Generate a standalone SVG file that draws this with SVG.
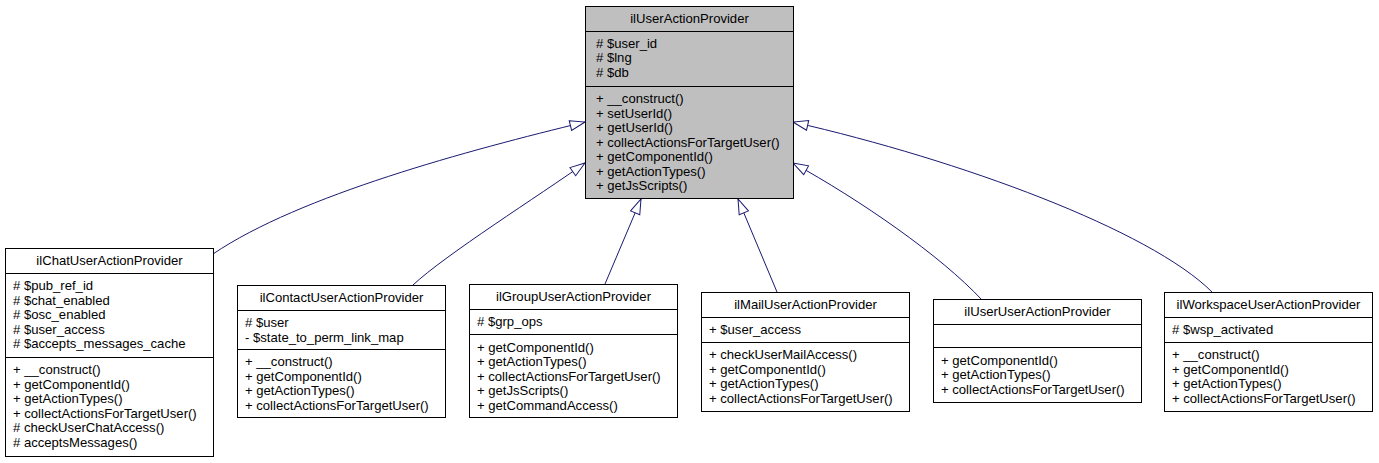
<svg xmlns="http://www.w3.org/2000/svg" width="1379" height="463" viewBox="0 0 1379 463">
<style>
.box{fill:#ffffff;stroke:#000000;stroke-width:1}
.base{fill:#bfbfbf}
.div{stroke:#000000;stroke-width:1}
text{font-family:"Liberation Sans",Arial,Helvetica,sans-serif;font-size:13.1px;fill:#000000}
.t{text-anchor:middle}
.edge{fill:none;stroke:#191970;stroke-width:1}
</style>
<defs>
<marker id="tri" markerUnits="userSpaceOnUse" markerWidth="17" markerHeight="13" refX="16" refY="6" orient="auto">
<path d="M1,1 L16,6 L1,11 Z" fill="#ffffff" stroke="#191970" stroke-width="1"/>
</marker>
</defs>
<g id="connectors">
<path class="edge" marker-end="url(#tri)" d="M213,254 C300,195 470,150 585,122"/>
<path class="edge" marker-end="url(#tri)" d="M413,285 C445,255 540,195 585,163"/>
<path class="edge" marker-end="url(#tri)" d="M605,284 L641,199"/>
<path class="edge" marker-end="url(#tri)" d="M777,292 L738,199"/>
<path class="edge" marker-end="url(#tri)" d="M982,300 C940,255 860,200 793,163"/>
<path class="edge" marker-end="url(#tri)" d="M1212,292 C1150,230 960,160 793,122"/>
</g>
<g id="ilUserActionProvider">
<rect class="box base" x="585.5" y="6.5" width="208" height="192"/>
<line class="div" x1="585.5" y1="31.5" x2="793.5" y2="31.5"/>
<line class="div" x1="585.5" y1="86.5" x2="793.5" y2="86.5"/>
<text class="t" x="689.5" y="22.5">ilUserActionProvider</text>
<text x="596" y="47.5"># $user_id</text>
<text x="596" y="62"># $lng</text>
<text x="596" y="76.5"># $db</text>
<text x="596" y="103">+ __construct()</text>
<text x="596" y="117.5">+ setUserId()</text>
<text x="596" y="132">+ getUserId()</text>
<text x="596" y="146.5">+ collectActionsForTargetUser()</text>
<text x="596" y="161">+ getComponentId()</text>
<text x="596" y="175.5">+ getActionTypes()</text>
<text x="596" y="190">+ getJsScripts()</text>
</g>
<g id="ilChatUserActionProvider">
<rect class="box" x="5.5" y="248.5" width="208" height="208"/>
<line class="div" x1="5.5" y1="273.5" x2="213.5" y2="273.5"/>
<line class="div" x1="5.5" y1="357.5" x2="213.5" y2="357.5"/>
<text class="t" x="109.5" y="265">ilChatUserActionProvider</text>
<text x="13" y="290"># $pub_ref_id</text>
<text x="13" y="304.5"># $chat_enabled</text>
<text x="13" y="319"># $osc_enabled</text>
<text x="13" y="333.5"># $user_access</text>
<text x="13" y="348"># $accepts_messages_cache</text>
<text x="13" y="374">+ __construct()</text>
<text x="13" y="388.5">+ getComponentId()</text>
<text x="13" y="403">+ getActionTypes()</text>
<text x="13" y="417.5">+ collectActionsForTargetUser()</text>
<text x="13" y="432"># checkUserChatAccess()</text>
<text x="13" y="446.5"># acceptsMessages()</text>
</g>
<g id="ilContactUserActionProvider">
<rect class="box" x="237.5" y="285.5" width="208" height="132"/>
<line class="div" x1="237.5" y1="310.5" x2="445.5" y2="310.5"/>
<line class="div" x1="237.5" y1="349.5" x2="445.5" y2="349.5"/>
<text class="t" x="341.5" y="302">ilContactUserActionProvider</text>
<text x="245" y="327"># $user</text>
<text x="245" y="341.5">- $state_to_perm_link_map</text>
<text x="245" y="366">+ __construct()</text>
<text x="245" y="380.5">+ getComponentId()</text>
<text x="245" y="395">+ getActionTypes()</text>
<text x="245" y="409.5">+ collectActionsForTargetUser()</text>
</g>
<g id="ilGroupUserActionProvider">
<rect class="box" x="469.5" y="284.5" width="208" height="133"/>
<line class="div" x1="469.5" y1="309.5" x2="677.5" y2="309.5"/>
<line class="div" x1="469.5" y1="334.5" x2="677.5" y2="334.5"/>
<text class="t" x="573.5" y="301">ilGroupUserActionProvider</text>
<text x="477" y="326"># $grp_ops</text>
<text x="477" y="351.5">+ getComponentId()</text>
<text x="477" y="366">+ getActionTypes()</text>
<text x="477" y="380.5">+ collectActionsForTargetUser()</text>
<text x="477" y="395">+ getJsScripts()</text>
<text x="477" y="409.5">+ getCommandAccess()</text>
</g>
<g id="ilMailUserActionProvider">
<rect class="box" x="701.5" y="292.5" width="208" height="119"/>
<line class="div" x1="701.5" y1="317.5" x2="909.5" y2="317.5"/>
<line class="div" x1="701.5" y1="342.5" x2="909.5" y2="342.5"/>
<text class="t" x="805.5" y="309">ilMailUserActionProvider</text>
<text x="709" y="334">+ $user_access</text>
<text x="709" y="359">+ checkUserMailAccess()</text>
<text x="709" y="373.5">+ getComponentId()</text>
<text x="709" y="388">+ getActionTypes()</text>
<text x="709" y="402.5">+ collectActionsForTargetUser()</text>
</g>
<g id="ilUserUserActionProvider">
<rect class="box" x="933.5" y="299.5" width="208" height="103"/>
<line class="div" x1="933.5" y1="324.5" x2="1141.5" y2="324.5"/>
<line class="div" x1="933.5" y1="347.5" x2="1141.5" y2="347.5"/>
<text class="t" x="1037.5" y="316">ilUserUserActionProvider</text>
<text x="941" y="364.5">+ getComponentId()</text>
<text x="941" y="379">+ getActionTypes()</text>
<text x="941" y="393.5">+ collectActionsForTargetUser()</text>
</g>
<g id="ilWorkspaceUserActionProvider">
<rect class="box" x="1164.5" y="292.5" width="208" height="119"/>
<line class="div" x1="1164.5" y1="317.5" x2="1372.5" y2="317.5"/>
<line class="div" x1="1164.5" y1="342.5" x2="1372.5" y2="342.5"/>
<text class="t" x="1268.5" y="309">ilWorkspaceUserActionProvider</text>
<text x="1172" y="334"># $wsp_activated</text>
<text x="1172" y="359">+ __construct()</text>
<text x="1172" y="373.5">+ getComponentId()</text>
<text x="1172" y="388">+ getActionTypes()</text>
<text x="1172" y="402.5">+ collectActionsForTargetUser()</text>
</g>
</svg>
